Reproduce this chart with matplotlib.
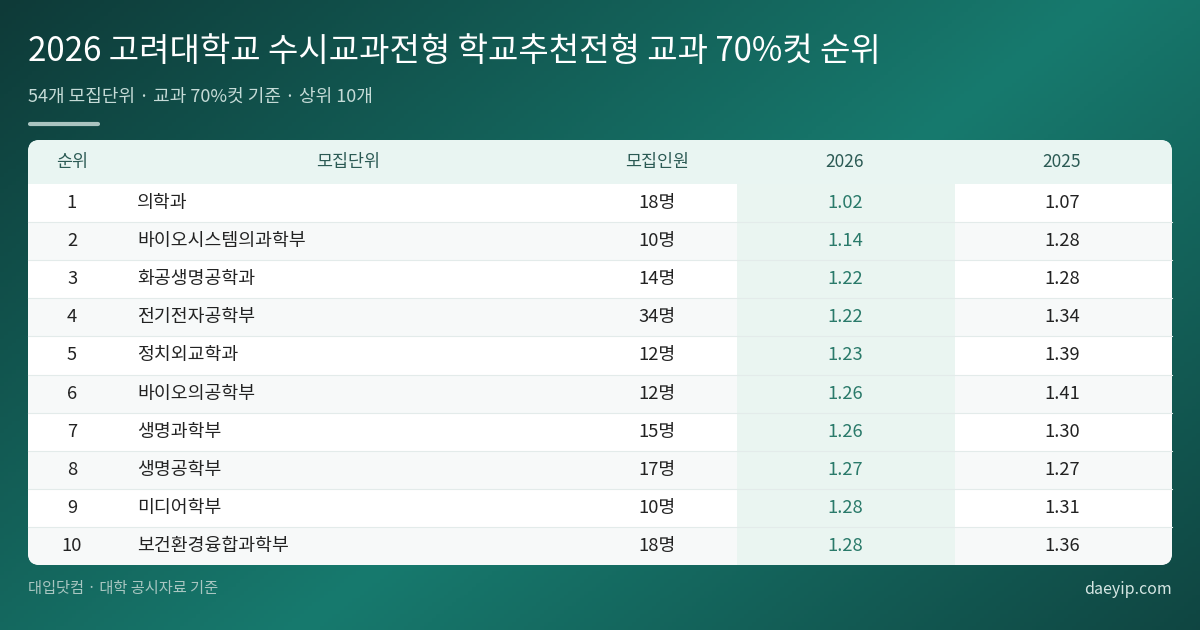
import matplotlib
matplotlib.use("Agg")
import matplotlib.pyplot as plt
import numpy as np
from matplotlib.patches import FancyBboxPatch, Rectangle

plt.rcParams['font.family'] = ['Noto Sans CJK KR', 'DejaVu Sans']

title = "2026 고려대학교 수시교과전형 학교추천전형 교과 70%컷 순위"
subtitle = "54개 모집단위 · 교과 70%컷 기준 · 상위 10개"
headers = ["순위", "모집단위", "모집인원", "2026", "2025"]
ranks = [1, 2, 3, 4, 5, 6, 7, 8, 9, 10]
units = ["의학과", "바이오시스템의과학부", "화공생명공학과", "전기전자공학부", "정치외교학과",
         "바이오의공학부", "생명과학부", "생명공학부", "미디어학부", "보건환경융합과학부"]
counts = [18, 10, 14, 34, 12, 12, 15, 17, 10, 18]
cut2026 = [1.02, 1.14, 1.22, 1.22, 1.23, 1.26, 1.26, 1.27, 1.28, 1.28]
cut2025 = [1.07, 1.28, 1.28, 1.34, 1.39, 1.41, 1.30, 1.27, 1.31, 1.36]
footer_left = "대입닷컴 · 대학 공시자료 기준"
footer_right = "daeyip.com"

fig = plt.figure(figsize=(12, 6.3), dpi=100)
ax = fig.add_axes([0, 0, 1, 1])
ax.set_xlim(0, 1200); ax.set_ylim(630, 0); ax.axis('off')

xx, yy = np.meshgrid(np.linspace(0, 1, 300), np.linspace(0, 1, 160))
t = (xx * 0.6 + yy * 0.4)
w = np.clip(1 - np.abs(t - 0.55) / 0.55, 0, 1)
c0 = np.array([0x0e, 0x3a, 0x38]) / 255
c1 = np.array([0x17, 0x7a, 0x6e]) / 255
img = c0[None, None, :] * (1 - w[..., None]) + c1[None, None, :] * w[..., None]
ax.imshow(img, extent=[0, 1200, 630, 0], aspect='auto', zorder=0)

ax.text(28, 52, title, color='white', fontsize=23.8, va='center', ha='left', zorder=5)
ax.text(28, 97, subtitle, color='#c5dbd7', fontsize=13, va='center', ha='left', zorder=5)
ax.plot([30, 98], [124, 124], color='#aac4c0', lw=3, solid_capstyle='round', zorder=5)

L, R, T, B = 28, 1172, 140, 565
card = FancyBboxPatch((L, T), R - L, B - T, boxstyle="round,pad=0,rounding_size=12",
                      fc='white', ec='none', zorder=1)
ax.add_patch(card)
hdr_h = 44
hdr = Rectangle((L, T), R - L, hdr_h, fc='#e9f5f2', ec='none', zorder=2)
hdr.set_clip_path(card)
ax.add_patch(hdr)
row_h = (B - T - hdr_h) / len(ranks)
for i in range(len(ranks)):
    if i % 2 == 1:
        r = Rectangle((L, T + hdr_h + i * row_h), R - L, row_h, fc='#f7f9f9', ec='none', zorder=1.5)
        r.set_clip_path(card)
        ax.add_patch(r)
band = Rectangle((737, T + hdr_h), 218, B - T - hdr_h, fc='#eaf5f1', ec='none', zorder=2)
band.set_clip_path(card)
ax.add_patch(band)

colx = [72, 348, 657, 845, 1062]
for x, h in zip(colx, headers):
    ax.text(x, T + hdr_h / 2, h, color='#2b5a54', fontsize=12.5, ha='center', va='center', zorder=5)

fs = 13.2
for i in range(len(ranks)):
    y0 = T + hdr_h + i * row_h
    yc = y0 + row_h / 2
    if i > 0:
        ax.plot([L, R], [y0, y0], color='#e3ebea', lw=0.8, zorder=3)
    ax.text(colx[0], yc, str(ranks[i]), color='#222222', fontsize=fs, ha='center', va='center', zorder=5)
    ax.text(137, yc, units[i], color='#222222', fontsize=fs, ha='left', va='center', zorder=5)
    ax.text(colx[2], yc, f"{counts[i]}명", color='#222222', fontsize=fs, ha='center', va='center', zorder=5)
    ax.text(colx[3], yc, f"{cut2026[i]:.2f}", color='#2a7a6a', fontsize=fs, ha='center', va='center', zorder=5)
    ax.text(colx[4], yc, f"{cut2025[i]:.2f}", color='#222222', fontsize=fs, ha='center', va='center', zorder=5)

ax.text(28, 589, footer_left, color='#a9c6c1', fontsize=11, ha='left', va='center', zorder=5)
ax.text(1172, 589, footer_right, color='#d5e6e3', fontsize=11.5, ha='right', va='center', zorder=5)

fig.savefig("out.png", dpi=100)
